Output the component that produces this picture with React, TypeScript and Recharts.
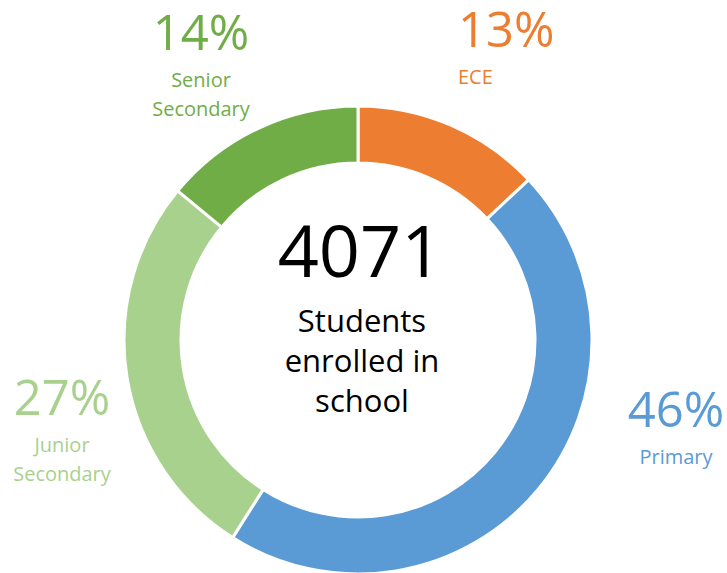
import React from 'react';
import { PieChart, Pie, Cell, Label } from 'recharts';

// Enrolment share by level (percent of students)
const categories = ['ECE', 'Primary', 'Junior Secondary', 'Senior Secondary'];
const shares = [13, 46, 27, 14];
const totalStudents = 4071;
const captionLines = ['Students', 'enrolled in', 'school'];

const COLORS = ['#ED7D31', '#5B9BD5', '#A9D18E', '#70AD47'];
const FONT = '"Open Sans", "Liberation Sans", sans-serif';

// callouts were moved by hand in the original, so anchor them relative to the centre
const LABEL_LAYOUT = [
  { dx: 100, dy: -293, anchor: 'start', lines: ['ECE'] },
  { dx: 318, dy: 87, anchor: 'middle', lines: ['Primary'] },
  { dx: -296, dy: 75, anchor: 'middle', lines: ['Junior', 'Secondary'] },
  { dx: -157, dy: -290, anchor: 'middle', lines: ['Senior', 'Secondary'] },
];

const data = categories.map((name, i) => ({ name, value: shares[i] }));

const renderLabel = (props: any) => {
  const { cx, cy, index, percent } = props;
  const l = LABEL_LAYOUT[index];
  const color = COLORS[index];
  const x = cx + l.dx;
  const y = cy + l.dy;
  return (
    <g key={`lbl-${index}`}>
      <text x={x} y={y} textAnchor={l.anchor} fill={color} fontSize={49} fontFamily={FONT}>
        {`${Math.round(percent * 100)}%`}
      </text>
      {l.lines.map((line, i) => (
        <text
          key={line}
          x={x}
          y={y + 37 + i * 29}
          textAnchor={l.anchor}
          fill={color}
          fontSize={20}
          fontFamily={FONT}
        >
          {line}
        </text>
      ))}
    </g>
  );
};

const CenterText = (props: any) => {
  const vb = props.viewBox || {};
  const cx = (vb.cx ?? 358) + 4;
  const cy = vb.cy ?? 340;
  return (
    <g>
      <text x={cx - 2} y={cy - 63} textAnchor="middle" fill="#000" fontSize={72} fontFamily={FONT}>
        {totalStudents}
      </text>
      {captionLines.map((line, i) => (
        <text
          key={line}
          x={cx}
          y={cy - 8 + i * 40}
          textAnchor="middle"
          fill="#000"
          fontSize={31}
          fontFamily={FONT}
        >
          {line}
        </text>
      ))}
    </g>
  );
};

export default function App() {
  return (
    <div style={{ position: 'absolute', left: 0, top: 0, width: 727, height: 573, background: '#fff' }}>
      <PieChart width={727} height={573} margin={{ top: 0, right: 0, bottom: 0, left: 0 }}>
        <Pie
          data={data}
          dataKey="value"
          nameKey="name"
          cx={358}
          cy={340}
          innerRadius={177}
          outerRadius={234}
          startAngle={90}
          endAngle={-270}
          stroke="#fff"
          strokeWidth={3}
          label={renderLabel}
          labelLine={false}
          isAnimationActive={false}
        >
          {data.map((d, i) => (
            <Cell key={d.name} fill={COLORS[i]} />
          ))}
          <Label position="center" content={CenterText} />
        </Pie>
      </PieChart>
    </div>
  );
}
